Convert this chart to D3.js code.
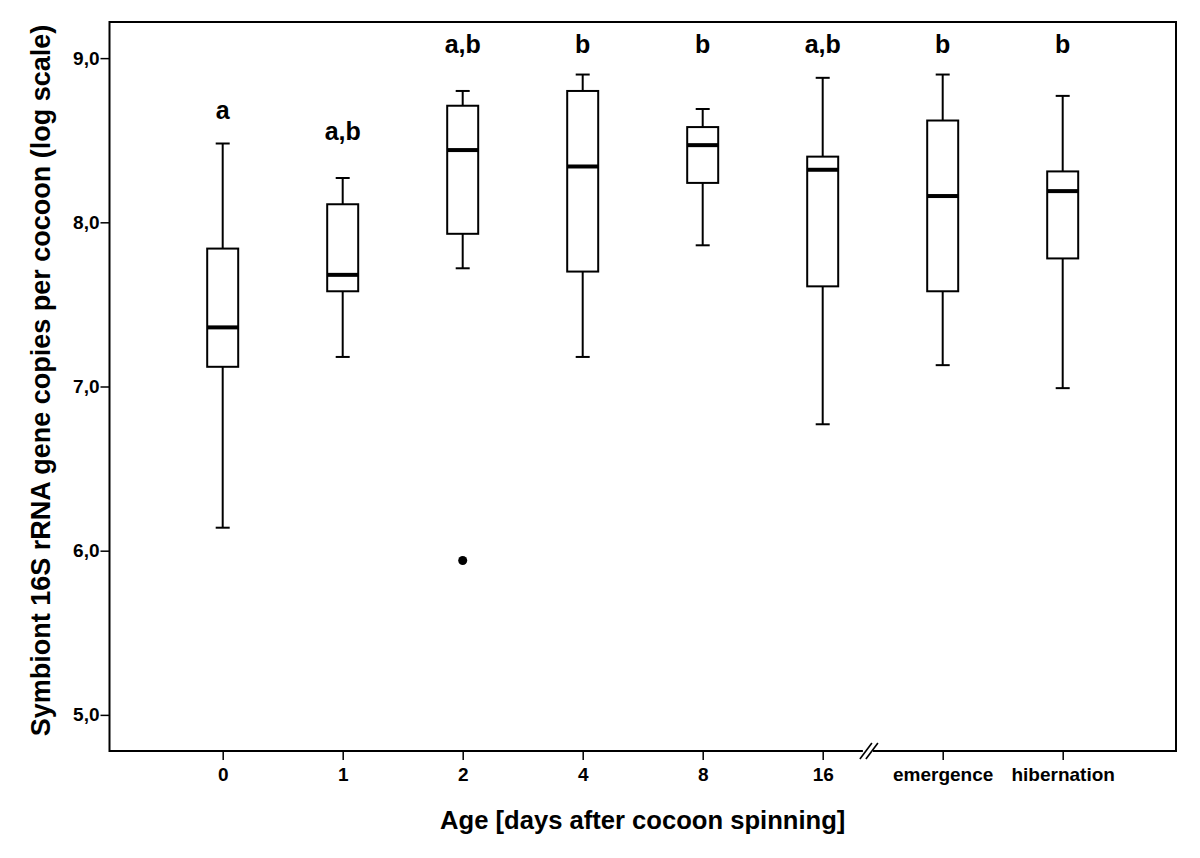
<!DOCTYPE html>
<html>
<head>
<meta charset="utf-8">
<script src="https://cdn.jsdelivr.net/npm/d3@7"></script>
<style>
  html, body { margin: 0; padding: 0; background: #fff; }
  svg { display: block; font-family: "Liberation Sans", Arial, sans-serif; font-weight: bold; }
</style>
</head>
<body>
<svg id="chart" width="1200" height="858"></svg>
<script>
// ---- data ----
const categories = ["0", "1", "2", "4", "8", "16", "emergence", "hibernation"];
const whiskerLow  = [6.14, 7.18, 7.72, 7.18, 7.86, 6.77, 7.13, 6.99];
const q1          = [7.12, 7.58, 7.93, 7.70, 8.24, 7.61, 7.58, 7.78];
const median      = [7.36, 7.68, 8.44, 8.34, 8.47, 8.32, 8.16, 8.19];
const q3          = [7.84, 8.11, 8.71, 8.80, 8.58, 8.40, 8.62, 8.31];
const whiskerHigh = [8.48, 8.27, 8.80, 8.90, 8.69, 8.88, 8.90, 8.77];
const outliers    = [{cat: "2", value: 5.94}];
const letters     = ["a", "a,b", "a,b", "b", "b", "a,b", "b", "b"];
const letterValue = [8.63, 8.50, 9.03, 9.03, 9.03, 9.03, 9.03, 9.03];
const yTicks      = [5, 6, 7, 8, 9];
const xTitle = "Age [days after cocoon spinning]";
const yTitle = "Symbiont 16S rRNA gene copies per cocoon (log scale)";

(function () {
// ---- layout ----
const svg = d3.select("#chart");
const pL = 109.5, pR = 1176, pT = 22, pB = 751;

const x = d3.scalePoint().domain(categories).range([222.7, 1062.7]);
const y = d3.scaleLinear().domain([4.78, 9.22]).range([pB, pT]);
const locale = d3.formatLocale({decimal: ",", thousands: ".", grouping: [3], currency: ["", ""]});
const fmt = locale.format(".1f");

const boxW = 31, capW = 14;
const FONT = "Liberation Sans, Arial, sans-serif";

// axes
const yAxis = svg.append("g")
  .attr("transform", `translate(${pL},0)`)
  .call(d3.axisLeft(y).tickValues(yTicks).tickSize(9).tickPadding(1).tickFormat(fmt));
yAxis.select(".domain").remove();
yAxis.attr("font-size", 19).attr("font-family", FONT).attr("font-weight", "bold");
yAxis.selectAll("line").attr("stroke", "#000").attr("stroke-width", 1.5);
yAxis.selectAll("text").attr("font-size", 19).attr("font-weight", "bold")
  .attr("font-family", FONT).attr("fill", "#000");

const xAxis = svg.append("g")
  .attr("transform", `translate(0,${pB})`)
  .call(d3.axisBottom(x).tickSize(9).tickPadding(8));
xAxis.select(".domain").remove();
xAxis.attr("font-size", 19).attr("font-family", FONT).attr("font-weight", "bold");
xAxis.selectAll("line").attr("stroke", "#000").attr("stroke-width", 1.5);
xAxis.selectAll("text").attr("font-size", 19).attr("font-weight", "bold")
  .attr("font-family", FONT).attr("fill", "#000");

// frame
svg.append("rect")
  .attr("x", pL).attr("y", pT)
  .attr("width", pR - pL).attr("height", pB - pT)
  .attr("fill", "none").attr("stroke", "#000").attr("stroke-width", 2);

// axis break mark between "16" and "emergence"
const step = x.step();
const bx = x("16") + step * 0.385;
const brk = svg.append("g").attr("transform", `translate(${bx},${pB})`);
brk.append("rect").attr("x", -6).attr("y", -3).attr("width", 10).attr("height", 6).attr("fill", "#fff");
[-3, 3].forEach(d => {
  brk.append("line")
    .attr("x1", d - 6).attr("y1", 8).attr("x2", d + 6).attr("y2", -8)
    .attr("stroke", "#000").attr("stroke-width", 1.6);
});

// boxes
const data = categories.map((c, i) => ({
  c, lo: whiskerLow[i], q1: q1[i], med: median[i], q3: q3[i], hi: whiskerHigh[i],
  letter: letters[i], lv: letterValue[i]
}));

const g = svg.append("g");
const box = g.selectAll("g.box").data(data).join("g").attr("class", "box");

box.append("line")
  .attr("x1", d => x(d.c)).attr("x2", d => x(d.c))
  .attr("y1", d => y(d.hi)).attr("y2", d => y(d.q3))
  .attr("stroke", "#000").attr("stroke-width", 2);
box.append("line")
  .attr("x1", d => x(d.c)).attr("x2", d => x(d.c))
  .attr("y1", d => y(d.q1)).attr("y2", d => y(d.lo))
  .attr("stroke", "#000").attr("stroke-width", 2);
box.append("line")
  .attr("x1", d => x(d.c) - capW / 2).attr("x2", d => x(d.c) + capW / 2)
  .attr("y1", d => y(d.hi)).attr("y2", d => y(d.hi))
  .attr("stroke", "#000").attr("stroke-width", 2);
box.append("line")
  .attr("x1", d => x(d.c) - capW / 2).attr("x2", d => x(d.c) + capW / 2)
  .attr("y1", d => y(d.lo)).attr("y2", d => y(d.lo))
  .attr("stroke", "#000").attr("stroke-width", 2);
box.append("rect")
  .attr("x", d => x(d.c) - boxW / 2).attr("width", boxW)
  .attr("y", d => y(d.q3)).attr("height", d => y(d.q1) - y(d.q3))
  .attr("fill", "#fff").attr("stroke", "#000").attr("stroke-width", 2);
box.append("line")
  .attr("x1", d => x(d.c) - boxW / 2).attr("x2", d => x(d.c) + boxW / 2)
  .attr("y1", d => y(d.med)).attr("y2", d => y(d.med))
  .attr("stroke", "#000").attr("stroke-width", 4);
box.append("text")
  .attr("x", d => x(d.c)).attr("y", d => y(d.lv))
  .attr("text-anchor", "middle").attr("font-size", 25).attr("font-weight", "bold")
  .attr("font-family", FONT).attr("fill", "#000").text(d => d.letter);

g.selectAll("circle.out").data(outliers).join("circle").attr("class", "out")
  .attr("cx", d => x(d.cat)).attr("cy", d => y(d.value)).attr("r", 4.5).attr("fill", "#000");

// titles
svg.append("text")
  .attr("x", (pL + pR) / 2).attr("y", 829)
  .attr("text-anchor", "middle").attr("font-size", 25.6).attr("font-weight", "bold")
  .attr("font-family", FONT).attr("fill", "#000").text(xTitle);
svg.append("text")
  .attr("transform", `translate(50,${(pT + pB) / 2 - 6}) rotate(-90)`)
  .attr("text-anchor", "middle").attr("font-size", 27).attr("font-weight", "bold")
  .attr("font-family", FONT).attr("fill", "#000").text(yTitle);
})();
</script>
</body>
</html>
